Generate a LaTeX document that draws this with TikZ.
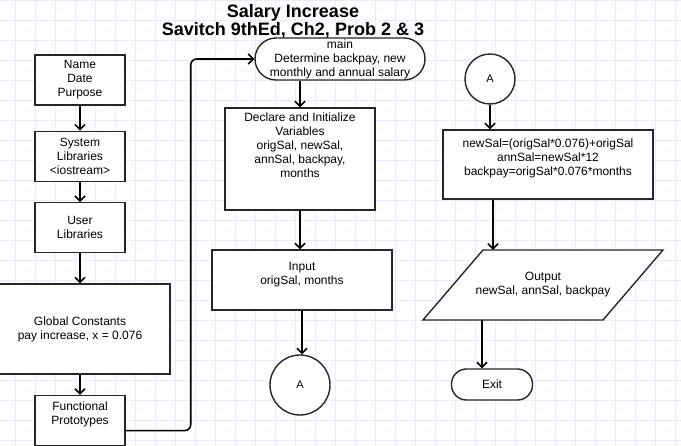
\documentclass[tikz,border=0pt]{standalone}
\usepackage{fontspec}
\setmainfont{Liberation Sans}
\usepackage{tikz}
\usetikzlibrary{arrows.meta,positioning,calc}

\begin{document}
\begin{tikzpicture}[
  x=1pt, y=-1pt,
  font=\fontsize{12}{14}\selectfont,
  >={Straight Barb[length=5pt,width=10pt]},
  box/.style={
    draw=black!85,
    align=center,
    inner sep=2pt,
    line width=1.4pt,
    fill=white
  },
  proc/.style={box, minimum width=90pt, minimum height=50pt},
  term/.style={box, rounded corners=15pt},
  conn/.style={box, circle},
  arrow/.style={->, line width=1.6pt}
]
  % canvas and grid
  \useasboundingbox (0,0) rectangle (681,446);
  \clip (0,0) rectangle (681,446);
  \fill[white] (0,0) rectangle (681,446);
  \foreach \gx in {5,25,...,685} \draw[blue!3, line width=0.5pt] (\gx,0) -- (\gx,446);
  \foreach \gy in {10,30,...,450} \draw[blue!3, line width=0.5pt] (0,\gy) -- (681,\gy);
  \foreach \gx in {15,35,...,675} \draw[blue!8, line width=0.8pt] (\gx,0) -- (\gx,446);
  \foreach \gy in {0,20,...,440} \draw[blue!8, line width=0.8pt] (0,\gy) -- (681,\gy);

  \node[font=\fontsize{18}{18}\selectfont\bfseries, align=center] (title) at (293,21)
    {Salary Increase\\Savitch 9thEd, Ch2, Prob 2 \& 3};

  % left column
  \node[proc] (ndp) at (80,80) {Name\\Date\\Purpose};
  \node[proc, below=25pt of ndp] (syslib) {System\\Libraries\\<iostream>};
  \node[proc, below=20pt of syslib] (usrlib) {User\\Libraries};
  \node[proc, minimum width=180pt, minimum height=90pt, below=30pt of usrlib] (glob)
    {Global Constants\\pay increase, x = 0.076};
  \node[proc, below=20pt of glob] (proto) {Functional\\Prototypes\\\mbox{}};

  % middle column
  \node[term, minimum width=170pt, minimum height=42pt, rounded corners=21pt, inner sep=0pt] (main) at (340,59)
    {main\\Determine backpay, new\\monthly and annual salary};
  \node[proc, minimum width=150pt, minimum height=102pt] (decl) at (300,159)
    {Declare and Initialize\\Variables\\origSal, newSal,\\annSal, backpay,\\months\\\mbox{}\\\mbox{}};
  \node[proc, minimum width=180pt, minimum height=60pt] (input) at (302,280)
    {Input\\origSal, months\\\mbox{}};
  \node[conn, minimum size=60pt, inner sep=0pt] (conA) at (300,385) {\fontsize{11}{13}\selectfont A};

  % right column
  \node[conn, minimum size=50pt, inner sep=0pt] (conB) at (490,79) {\fontsize{11}{13}\selectfont A};
  \node[proc, minimum width=210pt, minimum height=69pt] (calc) at (548,164.5)
    {newSal=(origSal*0.076)+origSal\\annSal=newSal*12\\backpay=origSal*0.076*months\\\mbox{}};
  \node[align=center, minimum height=70pt, inner sep=0pt] (outp) at (543,285)
    {Output\\newSal, annSal, backpay};
  \draw[line width=1.4pt, draw=black!85, fill=white] ([shift={(-60pt,35pt)}]outp.center)
    -- ++(180,0) -- ++(-60,70) -- ++(-180,0) -- cycle;
  \node[align=center] at (outp.center) {Output\\newSal, annSal, backpay};
  \node[term, minimum width=81pt, minimum height=31pt] (exit) at (492,384.5) {Exit};

  % connectors
  \draw[arrow] (ndp) -- (syslib);
  \draw[arrow] (syslib) -- (usrlib);
  \draw[arrow] (usrlib) -- (glob);
  \draw[arrow] (glob) -- (proto);
  \draw[arrow, rounded corners=6pt] ([yshift=-10pt]proto.east) -- ++(65,0) |- (main.west);
  \draw[arrow] (decl.north |- main.south) -- (decl);
  \draw[arrow] (decl) -- (decl |- input.north);
  \draw[arrow] (input) -- (input |- conA.north);
  \draw[arrow] (conB) -- (conB |- calc.north);
  \draw[arrow] ([xshift=-50pt]outp.north |- calc.south) -- ([xshift=-50pt]outp.north);
  \draw[arrow] ([xshift=-10pt]exit.north |- outp.south) -- ([xshift=-10pt]exit.north);
\end{tikzpicture}
\end{document}
